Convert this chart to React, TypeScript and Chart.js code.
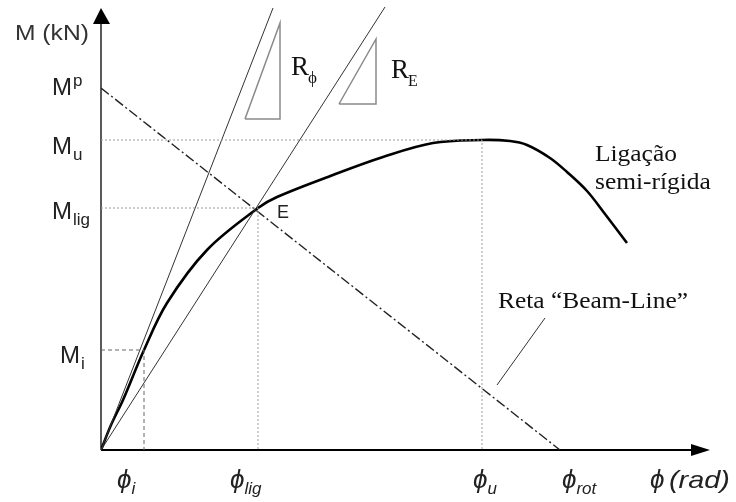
import React, { useEffect, useRef } from 'react';
import { Chart, registerables } from 'chart.js';

Chart.register(...registerables);

// Semi-rigid connection moment–rotation curve (schematic units)
const curvePhi = [0, 1.0, 2.2, 4.3, 6.6, 10.6, 15.7, 17.6, 23.2, 28.2, 33.2, 38.1, 40.9, 42.6, 44.9, 46.6, 48.6, 50.4, 52.6];
const curveM = [0, 2.5, 5.0, 10.0, 14.7, 20.0, 24.2, 25.3, 27.5, 29.3, 30.7, 31.0, 30.9, 30.5, 29.2, 27.8, 25.9, 23.6, 20.7];

// characteristic rotations and moments
const phiTicks = [4.3, 15.7, 38.1, 45.9];
const phiTickSubs = ['i', 'lig', 'u', 'rot'];
const mTicks = [10, 24.2, 31, 36.2];
const mTickSubs = ['i', 'lig', 'u', 'p'];

// stiffness lines (from origin)
const tangentEnd = [17.2, 44.2];
const secantEnd = [28.4, 44.3];

// stiffness triangles
const triPhiX = [14.4, 17.9, 17.9, 14.4];
const triPhiY = [33.1, 33.1, 42.7, 33.1];
const triEX = [23.8, 27.5, 27.5, 23.8];
const triEY = [34.6, 34.6, 41.1, 34.6];

// leader line for beam-line label
const leaderX = [44.4, 39.6];
const leaderY = [13.2, 6.5];

// axis extents (arrow tips)
const axisTip = [60.9, 44.2];

const PHI = '\u03D5';

const pts = (xs: number[], ys: number[]) => xs.map((x, i) => ({ x, y: ys[i] }));

function drawText(ctx: CanvasRenderingContext2D, s: string, x: number, y: number, font: string, color: string, sx = 1) {
  ctx.save();
  ctx.font = font;
  ctx.fillStyle = color;
  ctx.textBaseline = 'alphabetic';
  ctx.textAlign = 'left';
  ctx.translate(x, y);
  ctx.scale(sx, 1);
  ctx.fillText(s, 0, 0);
  const w = ctx.measureText(s).width * sx;
  ctx.restore();
  return w;
}

const SANS = '"Liberation Sans", Arial, "DejaVu Sans", sans-serif';
const SERIF = '"Liberation Serif", "Times New Roman", "DejaVu Serif", serif';

const diagramPlugin = {
  id: 'diagram',
  beforeDatasetsDraw(chart: any) {
    const ctx: CanvasRenderingContext2D = chart.ctx;
    const xs = chart.scales.x;
    const ys = chart.scales.y;
    const x0 = xs.getPixelForValue(0);
    const y0 = ys.getPixelForValue(0);
    const xt = xs.getPixelForValue(axisTip[0]);
    const yt = ys.getPixelForValue(axisTip[1]);
    ctx.save();
    // y axis
    ctx.strokeStyle = '#5a5a5a';
    ctx.lineWidth = 2;
    ctx.beginPath();
    ctx.moveTo(x0, y0);
    ctx.lineTo(x0, yt + 14);
    ctx.stroke();
    ctx.fillStyle = '#000';
    ctx.beginPath();
    ctx.moveTo(x0 - 8, yt + 16);
    ctx.lineTo(x0 + 9, yt + 16);
    ctx.lineTo(x0, yt);
    ctx.closePath();
    ctx.fill();
    // x axis
    ctx.strokeStyle = '#000';
    ctx.lineWidth = 2;
    ctx.beginPath();
    ctx.moveTo(x0, y0);
    ctx.lineTo(xt - 16, y0);
    ctx.stroke();
    ctx.beginPath();
    ctx.moveTo(xt - 19, y0 - 6);
    ctx.lineTo(xt - 19, y0 + 6);
    ctx.lineTo(xt, y0);
    ctx.closePath();
    ctx.fill();
    ctx.restore();
  },
  afterDatasetsDraw(chart: any) {
    const ctx: CanvasRenderingContext2D = chart.ctx;
    const xs = chart.scales.x;
    const ys = chart.scales.y;
    const tc = '#222';
    // axis titles
    drawText(ctx, 'M (kN)', 15, 40, `22px ${SANS}`, '#333', 1.12);
    const y0 = ys.getPixelForValue(0);
    drawText(ctx, PHI, 650, y0 + 38, `italic 26px ${SANS}`, tc);
    drawText(ctx, '(rad)', 669, y0 + 38, `italic 24px ${SANS}`, tc, 1.2);

    // M tick labels
    const mLeft = [60, 52, 52, 52];
    const mOff = [13, 11, 14, 7];
    mTicks.forEach((v, i) => {
      const py = ys.getPixelForValue(v);
      drawText(ctx, 'M', mLeft[i], py + mOff[i], `24px ${SANS}`, tc);
      const sub = mTickSubs[i];
      if (sub === 'p') {
        drawText(ctx, sub, mLeft[i] + 21, py + mOff[i] - 9, `17px ${SANS}`, tc);
      } else {
        drawText(ctx, sub, mLeft[i] + 21, py + mOff[i] + 6, `17px ${SANS}`, tc);
      }
    });

    // phi tick labels
    const pOff = [-27, -28, -9, 2];
    phiTicks.forEach((v, i) => {
      const px = xs.getPixelForValue(v) + pOff[i];
      const w = drawText(ctx, PHI, px, y0 + 38, `italic 26px ${SANS}`, tc);
      drawText(ctx, phiTickSubs[i], px + w, y0 + 44, `italic 17px ${SANS}`, tc);
    });

    // point E
    const ex = xs.getPixelForValue(phiTicks[1]);
    const ey = ys.getPixelForValue(mTicks[1]);
    drawText(ctx, 'E', ex + 19, ey + 10, `18px ${SANS}`, tc);

    // stiffness labels
    const tx = xs.getPixelForValue(triPhiX[1]);
    const ty = ys.getPixelForValue(triPhiY[2]);
    drawText(ctx, 'R', tx + 11, ty + 52, `27px ${SERIF}`, '#111');
    drawText(ctx, PHI, tx + 28, ty + 60, `17px ${SERIF}`, '#111');
    const rx = xs.getPixelForValue(triEX[1]);
    const ry = ys.getPixelForValue(triEY[2]);
    drawText(ctx, 'R', rx + 15, ry + 39, `27px ${SERIF}`, '#111');
    drawText(ctx, 'E', rx + 32, ry + 47, `16px ${SERIF}`, '#111');

    // curve label
    drawText(ctx, 'Ligação', 595, 161, `24px ${SERIF}`, '#111', 1.06);
    drawText(ctx, 'semi-rígida', 595, 189, `24px ${SERIF}`, '#111', 1.06);
    // beam line label
    drawText(ctx, 'Reta “Beam-Line”', 498, 308, `24px ${SERIF}`, '#111', 1.06);
  },
};

export default function App() {
  const ref = useRef<HTMLCanvasElement | null>(null);
  useEffect(() => {
    if (!ref.current) return;
    const Mp = mTicks[3];
    const Mu = mTicks[2];
    const Ml = mTicks[1];
    const Mi = mTicks[0];
    const pu = phiTicks[2];
    const pl = phiTicks[1];
    const pi = phiTicks[0];
    const prot = phiTicks[3];
    const chart = new Chart(ref.current, {
      type: 'scatter',
      data: {
        datasets: [
          {
            data: [{ x: 0, y: Mu }, { x: pu, y: Mu }, { x: pu, y: 0 }],
            showLine: true, borderColor: '#9a9a9a', borderWidth: 1, borderDash: [2, 2], pointRadius: 0,
          },
          {
            data: [{ x: 0, y: Ml }, { x: pl, y: Ml }, { x: pl, y: 0 }],
            showLine: true, borderColor: '#9a9a9a', borderWidth: 1, borderDash: [2, 2], pointRadius: 0,
          },
          {
            data: [{ x: 0, y: Mi }, { x: pi, y: Mi }, { x: pi, y: 0 }],
            showLine: true, borderColor: '#666', borderWidth: 1, borderDash: [4, 3], pointRadius: 0,
          },
          {
            data: [{ x: 0, y: 0 }, { x: tangentEnd[0], y: tangentEnd[1] }],
            showLine: true, borderColor: '#333', borderWidth: 1, pointRadius: 0,
          },
          {
            data: [{ x: 0, y: 0 }, { x: secantEnd[0], y: secantEnd[1] }],
            showLine: true, borderColor: '#333', borderWidth: 1, pointRadius: 0,
          },
          {
            data: [{ x: 0, y: Mp }, { x: prot, y: 0 }],
            showLine: true, borderColor: '#222', borderWidth: 1.4, borderDash: [10, 3, 2, 3], pointRadius: 0,
          },
          {
            data: pts(triPhiX, triPhiY),
            showLine: true, borderColor: '#8a8a8a', borderWidth: 1.5, pointRadius: 0,
          },
          {
            data: pts(triEX, triEY),
            showLine: true, borderColor: '#8a8a8a', borderWidth: 1.5, pointRadius: 0,
          },
          {
            data: pts(leaderX, leaderY),
            showLine: true, borderColor: '#333', borderWidth: 1, pointRadius: 0,
          },
          {
            data: pts(curvePhi, curveM),
            showLine: true, borderColor: '#000', borderWidth: 2.6, pointRadius: 0,
            tension: 0.35,
          },
        ] as any,
      },
      options: {
        animation: false,
        responsive: false,
        devicePixelRatio: 1,
        layout: { padding: { left: 101, right: 15, top: 0, bottom: 52 } },
        plugins: { legend: { display: false }, tooltip: { enabled: false } },
        scales: {
          x: { type: 'linear', min: 0, max: 62, display: false },
          y: { type: 'linear', min: 0, max: 45, display: false },
        },
      },
      plugins: [diagramPlugin],
    });
    return () => chart.destroy();
  }, []);
  return (
    <div style={{ position: 'absolute', left: 0, top: 0, width: 736, height: 502, background: '#fff' }}>
      <canvas ref={ref} width={736} height={502} />
    </div>
  );
}
